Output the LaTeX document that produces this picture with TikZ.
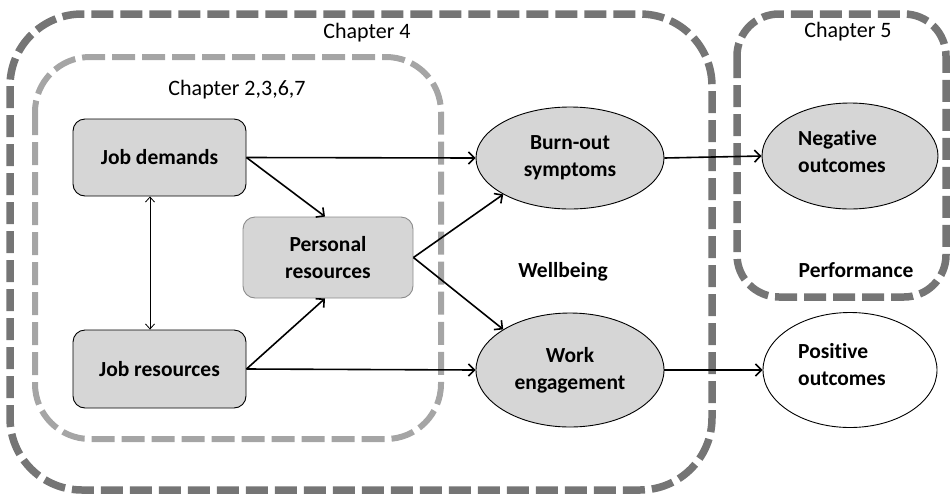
\documentclass[tikz,border=0pt]{standalone}
\usepackage{fontspec}
\setmainfont{Carlito}[Ligatures=NoCommon]
\usetikzlibrary{arrows.meta,shapes.geometric}
\definecolor{darkdash}{HTML}{757575}
\definecolor{lightdash}{HTML}{A5A5A5}
\definecolor{boxfill}{HTML}{D6D6D6}
\tikzset{
  chapterframe/.style={line width=7.5pt, dash pattern=on 22pt off 7pt, rounded corners=72pt, color=darkdash},
  innerframe/.style={line width=6pt, dash pattern=on 23pt off 7pt, rounded corners=55pt, color=lightdash},
  factorbox/.style={draw=black, line width=0.9pt, fill=boxfill, rounded corners=12pt, inner sep=0pt, font=\bfseries\fontsize{21.5}{27}\selectfont, align=center},
  stateell/.style={ellipse, draw=black, line width=0.9pt, fill=boxfill, inner sep=0pt, font=\bfseries\fontsize{21.5}{27}\selectfont, align=center},
  outell/.style={ellipse, draw=black, line width=0.9pt, inner sep=0pt},
  boldlabel/.style={font=\bfseries\fontsize{21.5}{27}\selectfont, align=left, inner sep=0pt},
  chaptertitle/.style={font=\fontsize{22}{26}\selectfont, inner sep=0pt},
  flow/.style={line width=1.6pt, -{Straight Barb[length=6pt,width=12pt]}},
  mutual/.style={line width=0.8pt, {Straight Barb[length=5pt,width=9pt]}-{Straight Barb[length=5pt,width=9pt]}}
}
\begin{document}
\begin{tikzpicture}[x=1pt, y=-1pt]
\useasboundingbox (0,0) rectangle (950,496);

% chapter frames
\draw[chapterframe] (10,14) rectangle (712,490);
\draw[chapterframe, rounded corners=42pt] (737,14) rectangle (946,297);
\draw[innerframe] (35,57) rectangle (441,439);

\node[chaptertitle] (ch4) at (367,33) {Chapter 4};
\node[chaptertitle] (ch5) at (848,32) {Chapter 5};
\node[chaptertitle] (ch2) at (237,90) {Chapter 2,3,6,7};

% antecedents
\node[factorbox, minimum width=173pt, minimum height=77pt] (jd) at (159.5,157.5) {Job demands};
\node[factorbox, minimum width=173pt, minimum height=78pt] (jr) at (159.5,369) {Job resources};
\node[factorbox, draw=black!45, minimum width=170pt, minimum height=81pt] (pr) at (328,257.5) {Personal\\resources};

% wellbeing states
\node[stateell, minimum width=188pt, minimum height=102pt] (bo) at (570,158) {Burn-out\\symptoms};
\node[stateell, minimum width=188pt, minimum height=114pt] (we) at (570,370) {Work\\engagement};
\node[boldlabel] (wb) at (563,272) {Wellbeing};

% outcomes
\node[outell, fill=boxfill, minimum width=176pt, minimum height=106pt] (neg) at (850,156) {};
\node[boldlabel] (negt) at (842,152) {Negative\\outcomes};
\node[outell, fill=white, minimum width=174pt, minimum height=115pt] (pos) at (850,370) {};
\node[boldlabel] (post) at (842,365) {Positive\\outcomes};
\node[boldlabel] (perf) at (856,270) {Performance};

% paths
\draw[mutual] ([xshift=-9.5pt]jd.south) -- ([xshift=-9.5pt]jr.north);
\draw[flow] (jd.east) -- (bo.west);
\draw[flow] (jd.east) -- ([xshift=-3pt]pr.north);
\draw[flow] (jr.east) -- ([xshift=-3pt]pr.south);
\draw[flow] (jr.east) -- (we.west);
\draw[flow] (pr.east) -- (bo.south west);
\draw[flow] (pr.east) -- (we.north west);
\draw[flow] (bo.east) -- (neg.west);
\draw[flow] (we.east) -- (pos.west);
\end{tikzpicture}
\end{document}
